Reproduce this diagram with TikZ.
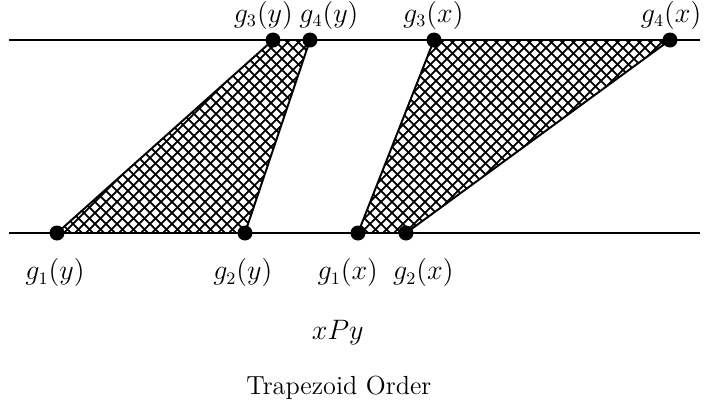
\documentclass[tikz,border=0pt]{standalone}
\usepackage{amsmath,amssymb}
\usepackage{tikz}

\tikzset{
  pt/.style={circle, fill=black, inner sep=0pt, minimum size=0.27cm},
  lab/.style={font=\fontsize{13.4}{16}\selectfont, inner sep=1pt},
  hatch/.style={line width=0.9pt}
}

\begin{document}
\begin{tikzpicture}
    \useasboundingbox (0,0) rectangle (12.78,7.362);
    % the two lines
    \coordinate (topL) at (0.16, 6.642);
    \coordinate (topR) at (12.6, 6.642);
    \coordinate (botL) at (0.16, 3.168);
    \coordinate (botR) at (12.6, 3.168);
    \draw[line width=1pt] (topL) -- (topR);
    \draw[line width=1pt] (botL) -- (botR);
    % end points
    \coordinate (g1y) at (1.026, 3.168);
    \coordinate (g2y) at (4.41, 3.168);
    \coordinate (g3y) at (4.914, 6.642);
    \coordinate (g4y) at (5.58, 6.642);
    \coordinate (g1x) at (6.444, 3.168);
    \coordinate (g2x) at (7.308, 3.168);
    \coordinate (g3x) at (7.812, 6.642);
    \coordinate (g4x) at (12.06, 6.642);
    % trapezoids, hatched by hand
    \foreach \a/\b/\c/\d in {g1y/g3y/g4y/g2y, g1x/g3x/g4x/g2x} {
      \begin{scope}
        \clip (\a) -- (\b) -- (\c) -- (\d) -- cycle;
        \foreach \s in {0,...,90} {
          \draw[hatch] (-4+0.198*\s, 3.168) -- ++(3.474, 3.474);
          \draw[hatch] (-0.5+0.198*\s, 3.168) -- ++(-3.474, 3.474);
        }
      \end{scope}
      \draw[line width=1pt, line join=round] (\a) -- (\b) -- (\c) -- (\d);
    }
    \foreach \p in {g1y, g2y, g3y, g4y, g1x, g2x, g3x, g4x}
      \node[pt] (n\p) at (\p) {};
    % labels
    \node[lab] (l1y) at (0.99, 2.45) {$g_1(y)$};
    \node[lab] (l2y) at (4.37, 2.45) {$g_2(y)$};
    \node[lab] (l1x) at (6.26, 2.45) {$g_1(x)$};
    \node[lab] (l2x) at (7.62, 2.45) {$g_2(x)$};
    \node[lab] (l3y) at (4.74, 7.08) {$g_3(y)$};
    \node[lab] (l4y) at (5.92, 7.08) {$g_4(y)$};
    \node[lab] (l3x) at (7.80, 7.08) {$g_3(x)$};
    \node[lab] (l4x) at (12.08, 7.08) {$g_4(x)$};
    \node[lab] (rel) at (6.08, 1.37) {$xPy$};
    \node[lab] (title) at (6.10, 0.38) {Trapezoid Order};
\end{tikzpicture}
\end{document}
